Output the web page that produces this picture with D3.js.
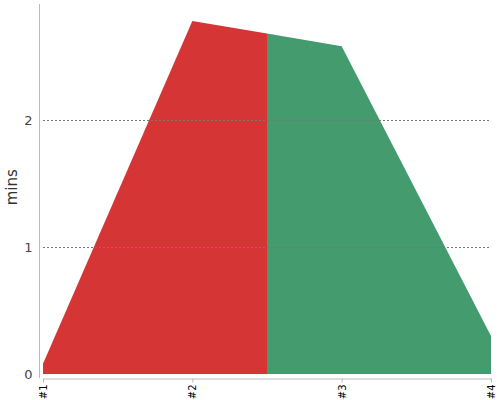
<!DOCTYPE html>
<html lang="en">
<head>
<meta charset="utf-8" />
<title>mins</title>
<script src="https://cdn.jsdelivr.net/npm/d3@7"></script>
<style>
  body { margin: 0; background: #fff; font-family: "DejaVu Sans", sans-serif; }
</style>
</head>
<body>
<div id="chart"></div>
<script>
  var categories = ["#1", "#2", "#3", "#4"];
  var values = [0.08, 2.78, 2.58, 0.30];
  var yTicks = [0, 1, 2];
  var splitAt = 1.5; // colour changes halfway between #2 and #3
  var colors = ["#d63535", "#449c6e"];

  var width = 500, height = 400;
  var plotLeft = 43, plotRight = 491, plotTop = 4, plotBase = 374;

  var svg = d3.select("#chart").append("svg")
      .attr("width", width)
      .attr("height", height);

  var x = d3.scaleLinear().domain([0, categories.length - 1]).range([plotLeft, plotRight]);
  var y = d3.scaleLinear().domain([0, 2.913]).range([plotBase, plotTop]);

  // interpolate the value at the colour split
  var i0 = Math.floor(splitAt);
  var vSplit = values[i0] + (values[i0 + 1] - values[i0]) * (splitAt - i0);

  var pts = values.map(function(v, i) { return [i, v]; });
  var first = pts.filter(function(p) { return p[0] <= splitAt; }).concat([[splitAt, vSplit]]);
  var second = [[splitAt, vSplit]].concat(pts.filter(function(p) { return p[0] > splitAt; }));

  var area = d3.area()
      .x(function(d) { return x(d[0]); })
      .y0(y(0))
      .y1(function(d) { return y(d[1]); });

  svg.append("path").datum(first).attr("fill", colors[0]).attr("d", area);
  svg.append("path").datum(second).attr("fill", colors[1]).attr("d", area);

  // grid lines
  svg.selectAll(".grid").data(yTicks.filter(function(t) { return t > 0; }))
    .enter().append("line")
      .attr("x1", plotLeft).attr("x2", plotRight)
      .attr("y1", function(d) { return Math.round(y(d)) + 0.5; })
      .attr("y2", function(d) { return Math.round(y(d)) + 0.5; })
      .attr("stroke", "#777")
      .attr("stroke-width", 1)
      .attr("stroke-dasharray", "2,2");

  // y axis
  var yAxis = svg.append("g").attr("transform", "translate(39.5,0)")
      .call(d3.axisLeft(y).tickValues(yTicks).tickFormat(d3.format("d")).tickSize(0).tickPadding(7));
  yAxis.select(".domain").attr("stroke", "#bbb").attr("d", "M0," + plotTop + "V" + (plotBase + 4));
  yAxis.selectAll("text").attr("fill", "#444").style("font-size", "13px")
      .style("font-family", "DejaVu Sans, sans-serif");

  // x axis
  var xAxis = svg.append("g").attr("transform", "translate(0," + (plotBase + 4.5) + ")")
      .call(d3.axisBottom(x).tickValues(d3.range(categories.length))
        .tickFormat(function(d) { return categories[d]; }).tickSize(4).tickSizeOuter(0));
  xAxis.select(".domain").attr("stroke", "#bbb");
  xAxis.selectAll(".tick line").attr("stroke", "#bbb");
  xAxis.selectAll("text")
      .attr("fill", "#000")
      .style("font-size", "10px")
      .style("font-family", "DejaVu Sans, sans-serif")
      .attr("transform", "rotate(-90)")
      .attr("x", -6).attr("y", 0).attr("dy", "0.35em")
      .attr("text-anchor", "end");

  svg.append("text")
      .attr("transform", "translate(17," + (y(1.47)) + ") rotate(-90)")
      .attr("text-anchor", "middle")
      .attr("fill", "#333")
      .style("font-size", "15px")
      .style("font-family", "DejaVu Sans, sans-serif")
      .text("mins");
</script>
</body>
</html>
